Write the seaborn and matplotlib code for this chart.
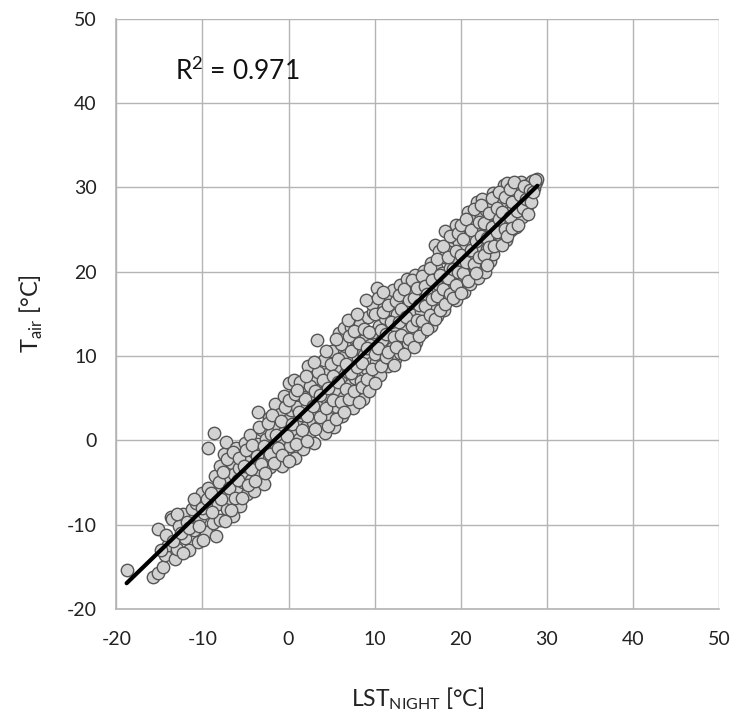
import matplotlib
matplotlib.use('Agg')
import matplotlib.pyplot as plt
import numpy as np
import pandas as pd
import seaborn as sns

# LST night vs air temperature
lst_night = [
    -18.8, -15.7, -15.2, -15.2, -14.6, -14.3, -14.0, -13.7, -13.5, -13.2, -12.9, -12.7, -12.3, -12.0,
    -11.8, -11.5, -11.2, -11.0, -10.7, -10.5, -10.3, -10.0, -9.8, -9.6, -9.3, -9.3, -9.1, -8.8, -8.7,
    -8.4, -8.5,
    -8.2, -8.0, -7.9, -7.7, -7.5, -7.3, -7.2, -7.0, -6.8, -6.6, -6.5, -6.3, -6.1, -6.0, -5.8, -5.6,
    -5.5, -5.3, -5.1, -5.0, -4.8, -4.6, -4.5, -4.3, -4.1, -4.0, -3.8, -3.6, -3.5, -3.3, -3.1, -3.0,
    -2.8, -2.6, -2.5, -2.3, -2.1, -2.0, -1.8, -1.6, -1.5, -1.3, -1.1, -1.0, -0.8, -0.6, -0.5, -0.3,
    -0.1, 0.0,
    0.2, 0.3, 0.5, 0.6, 0.8, 0.9, 1.0, 1.1, 1.2, 1.4, 1.5, 1.7, 1.8, 2.0, 2.1, 2.3, 2.4, 2.6, 2.7,
    2.9, 3.0, 3.2, 3.3, 3.5, 3.6, 3.8, 3.9, 4.0, 4.1, 4.2, 4.4, 4.5, 4.7, 4.8, 5.0, 5.1, 5.3, 5.4,
    5.6, 5.7, 5.9, 6.0, 6.2, 6.3, 6.4, 6.5, 6.6, 6.8, 6.9, 7.1, 7.2, 7.4, 7.5, 7.7, 7.8, 8.0, 8.1,
    8.3, 8.4, 8.6, 8.7, 8.8, 8.9, 9.0, 9.2, 9.3, 9.5, 9.6, 9.8, 9.9, 10.0,
    10.2, 10.3, 10.5, 10.6, 10.8, 10.9, 11.1, 11.2, 11.4, 11.5, 11.7, 11.8, 12.0, 12.1, 12.3, 12.4,
    12.6, 12.7, 12.9, 13.0, 13.2, 13.3, 13.5, 13.6, 13.8, 13.9, 14.1, 14.2, 14.4, 14.5, 14.7, 14.8,
    15.0, 15.1, 15.3, 15.4, 15.6, 15.7, 15.9, 16.0, 16.2, 16.3, 16.5, 16.6, 16.8, 16.9, 17.0, 17.1,
    17.2, 17.4, 17.5, 17.7, 17.8, 18.0, 18.1, 18.2, 18.3, 18.4, 18.6, 18.7, 18.9, 19.0, 19.0, 19.2,
    19.3, 19.5, 19.5, 19.6, 19.8, 19.9,
    20.1, 20.2, 20.4, 20.5, 20.7, 20.8, 20.9, 21.0, 21.1, 21.3, 21.4, 21.6, 21.7, 21.9, 21.9, 22.0,
    22.2, 22.3, 22.5, 22.5, 22.6, 22.8, 22.9, 23.1, 23.2, 23.4, 23.5, 23.7, 23.7, 23.8, 24.0, 24.1,
    24.3, 24.4, 24.6, 24.7, 24.9, 25.0, 25.2, 25.3, 25.4, 25.5, 25.6, 25.8, 25.9, 26.1, 26.3, 26.4,
    26.6, 26.8, 27.0, 27.1, 27.3, 27.5, 27.7, 27.9, 28.1, 28.3, 28.5, 28.7, 28.9,
]
t_air = [
    -15.4, -16.2, -15.8, -10.5, -15.0, -13.6, -12.4, -9.1, -9.3, -14.1, -12.9, -10.2, -8.8, -11.6,
    -9.7, -13.0, -8.1, -10.7, -7.4, -12.1, -9.2, -6.2, -8.6, -10.9, -5.6, -0.9, -7.9, -9.8, 0.9,
    -11.3, -4.2,
    -7.5, -3.1, -9.4, -5.8, -1.6, -0.2, -8.2, -4.9, -6.9, -2.7, -9.0, -4.0, -0.9, -6.1, -3.3, -7.8,
    -1.8, -5.0, -0.3, -3.9, -6.4, -2.2, 0.6, -4.7, -1.3, -6.0, -2.9, 3.4, -0.4, -4.1, 1.2, -2.0,
    -5.2, 0.1, -1.1, 2.7, -3.2, 0.8, -0.6, 4.3, -2.4, 1.9, -0.1, 3.1, -3.0, 0.9, 5.2, -1.4,
    2.4, 6.8,
    -0.7, 3.6, 1.1, 7.2, -2.1, 4.5, 3.9, 2.0, 0.2, 5.9, 3.0, -1.0, 6.6, 1.6, 4.0, 8.8, 0.7, 3.3, 5.3,
    2.2, -0.3, 7.4, 11.9, 4.6, 1.8, 6.1, 3.2, 5.6, 9.5, 0.9, 5.0, 7.9, 2.7, 4.2, 10.6, 6.5, 1.6, 8.7,
    3.9, 5.8, 12.7, 7.3, 2.9, 9.9, 13.3, 5.1, 11.2, 4.0, 8.1, 6.6, 13.4, 9.3, 3.8, 7.4, 11.0, 5.9, 9.8,
    13.8, 7.0, 10.5, 4.9, 10.1, 12.0, 8.6, 14.6, 6.7, 11.3, 9.2, 15.2, 7.8, 12.8,
    9.3, 18.1, 13.6, 7.7, 11.9, 16.4, 10.2, 14.5, 17.3, 8.8, 12.9, 15.6, 10.9, 17.8, 13.7, 9.6,
    15.0, 12.0, 18.4, 10.4, 14.2, 11.1, 16.8, 13.0, 19.1, 11.6, 15.4, 17.7, 12.5, 14.9, 19.6, 11.7,
    16.2, 13.8, 18.6, 15.3, 12.9, 20.1, 17.0, 14.2, 19.2, 15.8, 21.0, 13.5, 17.9, 16.1, 23.2, 20.6,
    14.7, 18.5, 22.4, 16.6, 19.8, 15.4, 21.7, 24.8, 18.2, 23.0, 16.9, 20.4, 22.6, 17.8, 23.8, 24.1,
    19.5, 16.6, 25.6, 21.3, 23.5, 18.7,
    20.5, 25.2, 17.6, 22.8, 19.4, 24.3, 27.1, 21.6, 18.5, 23.7, 26.0, 20.2, 22.4, 25.1, 28.3, 19.3,
    23.0, 26.6, 21.1, 28.6, 24.4, 20.0, 27.3, 22.7, 25.5, 21.3, 28.1, 24.0, 29.3, 22.1, 26.8, 29.0,
    23.3, 25.7, 23.4, 28.4, 24.6, 30.3, 26.2, 23.8, 30.5, 29.2, 27.0, 24.9, 30.0, 26.4, 28.6, 25.3,
    29.8, 27.4, 30.6, 26.5, 28.9, 29.6, 27.8, 30.4, 29.1, 30.8, 29.9, 30.6, 31.0,
]

# second pass of points filling the dense part of the band
lst_night_2 = [
    -14.8, -14.2, -13.4, -13.0, -12.5, -12.2, -11.6, -11.0, -10.4, -10.1, -9.9, -9.5, -9.0, -8.9,
    -8.1, -7.8, -7.6, -7.4, -7.1, -6.9, -6.7, -6.4, -6.2, -5.9,
    -5.7, -5.4, -5.2, -4.9, -4.7, -4.4, -4.2, -3.9, -3.7, -3.4,
    -3.2, -2.9, -2.7, -2.4, -2.2, -1.9, -1.7, -1.4, -1.2, -0.9,
    -0.7, -0.4, -0.2, 0.1, 0.1,
    0.4, 0.7, 0.9, 1.2, 1.3, 1.6, 1.9, 2.2, 2.2, 2.5,
    2.8, 3.1, 3.1, 3.4, 3.7, 3.7, 4.0, 4.3, 4.6, 4.6,
    4.9, 5.2, 5.2, 5.5, 5.8, 5.8, 6.1, 6.1, 6.4, 6.7,
    6.7, 7.0, 7.0, 7.3, 7.3, 7.6, 7.6, 7.9, 8.2, 8.2,
    8.5, 8.5, 8.8, 9.1, 9.1, 9.4, 9.4, 9.7, 9.7, 10.0,
    10.0, 3.0, 2.0, 4.4, 1.0, 5.5, 6.9, 8.0, 9.0,
    10.1, 10.4, 10.4, 10.7, 10.7, 11.0, 11.0, 11.3, 11.3, 11.6,
    11.6, 11.9, 12.2, 12.2, 12.5, 12.5, 12.8, 12.8, 13.1, 13.1,
    13.4, 13.4, 13.7, 14.0, 14.0, 14.3, 14.3, 14.6, 14.6, 14.9,
    14.9, 15.2, 15.2, 15.5, 15.5, 15.8, 15.8, 16.1, 16.1, 16.4,
    16.4, 16.7, 16.7, 17.0, 17.3, 17.3, 17.6, 17.6, 17.9, 17.9,
    18.2, 18.5, 18.5, 18.8, 18.8, 19.1, 19.1, 19.4, 19.4, 19.7,
    19.7, 20.0, 20.0, 20.0,
    20.3, 20.3, 20.6, 20.6, 20.9, 21.2, 21.2, 21.5, 21.5, 21.8,
    21.8, 22.1, 22.1, 22.4, 22.4, 22.7, 22.7, 23.0, 23.0, 23.3,
    23.3, 23.6, 23.6, 23.9, 24.2, 24.2, 24.5, 24.5, 24.8, 24.8,
    25.1, 25.1, 25.4, 25.7, 25.7, 26.0, 26.0, 26.2, 26.5, 26.7,
    26.9, 27.2, 27.4, 27.6, 27.8, 28.0, 28.2, 28.4, 28.6,
]
t_air_2 = [
    -13.0, -11.2, -11.9, -8.7, -11.0, -13.4, -10.4, -7.0, -10.2, -8.0, -11.8, -7.0, -6.3, -8.5,
    -5.0, -7.0, -3.8, -9.6, -2.2, -5.7, -8.3, -1.4, -6.8, -4.7,
    -2.1, -6.9, -3.0, -1.1, -5.3, -3.4, -0.5, -4.8, -1.9, 1.6,
    -2.8, -0.7, -3.9, 2.0, -1.6, 3.0, -2.7, 0.6, -0.9, 2.3,
    -1.8, 3.9, 0.5, -2.4, 4.8,
    1.9, 5.5, -0.4, 3.4, 6.9, 1.2, 4.9, -0.1, 2.9, 6.4,
    4.1, 1.3, 5.8, 8.1, 2.8, 5.4, 7.2, 3.8, 1.7, 6.2,
    9.0, 4.8, 7.6, 2.5, 6.9, 9.6, 4.6, 11.4, 3.4, 6.1,
    9.0, 12.4, 4.9, 8.0, 10.6, 5.8, 13.0, 8.7, 4.6, 11.6,
    9.2, 6.3, 13.2, 7.3, 10.9, 5.8, 12.9, 8.5, 16.2, 10.2,
    6.8, 9.3, 7.6, 10.6, 6.0, 12.0, 14.3, 15.0, 16.6,
    15.0, 11.0, 16.9, 8.8, 13.1, 15.2, 17.6, 9.9, 12.6, 16.0,
    10.5, 14.0, 8.9, 12.3, 16.5, 11.1, 14.0, 17.2, 12.5, 15.6,
    10.2, 18.0, 14.6, 12.0, 16.7, 13.6, 19.0, 11.1, 16.9, 14.3,
    18.1, 12.4, 16.0, 19.5, 14.1, 15.9, 18.3, 13.2, 17.3, 20.4,
    14.9, 16.8, 19.0, 14.4, 17.1, 21.5, 15.5, 19.6, 18.0, 23.0,
    16.2, 19.2, 21.8, 17.3, 24.2, 20.3, 16.9, 22.5, 18.4, 20.0,
    24.6, 17.5, 22.0, 25.6,
    19.9, 23.9, 21.2, 26.2, 18.9, 22.6, 25.0, 20.9, 27.4, 23.6,
    19.9, 25.9, 21.8, 24.2, 27.9, 22.0, 25.8, 20.8, 24.0, 27.0,
    22.9, 25.3, 28.7, 23.1, 27.6, 24.7, 26.2, 29.4, 23.2, 27.1,
    25.1, 28.9, 24.2, 26.5, 29.8, 25.2, 28.3, 30.6, 27.2, 25.6,
    29.1, 27.5, 30.2, 28.6, 26.8, 29.7, 28.3, 29.5, 30.9,
]
x_ticks = [-20, -10, 0, 10, 20, 30, 40, 50]
y_ticks = [-20, -10, 0, 10, 20, 30, 40, 50]
r2_label = 'R$^{\\mathregular{2}}$ = 0.971'

assert len(lst_night) == len(t_air) and len(lst_night_2) == len(t_air_2)
df = pd.DataFrame({'lst': lst_night + lst_night_2, 'tair': t_air + t_air_2})

sns.set_style('white')
plt.rcParams['font.family'] = ['Lato', 'DejaVu Sans']
plt.rcParams['mathtext.fontset'] = 'custom'
plt.rcParams['mathtext.rm'] = 'Lato'
plt.rcParams['axes.unicode_minus'] = False

fig = plt.figure(figsize=(7.36, 7.24), dpi=100)
ax = fig.add_axes([0.158, 0.159, 0.819, 0.815])

grid_col = '#b4b4b4'
sns.scatterplot(data=df, x='lst', y='tair', ax=ax, s=80, color='#d2d2d2',
                edgecolor='#555555', linewidth=1.0, zorder=3, legend=False)
sns.regplot(data=df, x='lst', y='tair', ax=ax, scatter=False, ci=None,
            line_kws={'color': 'black', 'lw': 3.0, 'zorder': 4})

ax.set_xlim(-20, 50)
ax.set_ylim(-20, 50)
ax.set_xticks(x_ticks)
ax.set_yticks(y_ticks)
ax.grid(True, color=grid_col, lw=1.0, zorder=0)
ax.set_axisbelow(True)
for side in ['left', 'bottom']:
    ax.spines[side].set_color(grid_col)
    ax.spines[side].set_linewidth(1.2)
for side in ['top', 'right']:
    ax.spines[side].set_visible(False)
ax.tick_params(length=0, labelsize=14, colors='#222222')
ax.tick_params(axis='x', pad=16)
ax.tick_params(axis='y', pad=14)

ax.set_xlabel('LST$_{\\mathregular{NIGHT}}$ [°C]', fontsize=16.5, color='#222222')
ax.set_ylabel('T$_{\\mathregular{air}}$ [°C]', fontsize=17, color='#222222')
ax.xaxis.set_label_coords(0.5, -0.130)
ax.yaxis.set_label_coords(-0.118, 0.5)

ax.text(-13.2, 43.8, r2_label, fontsize=19, va='center', ha='left', color='#111111')

fig.savefig('out.png', dpi=100)
